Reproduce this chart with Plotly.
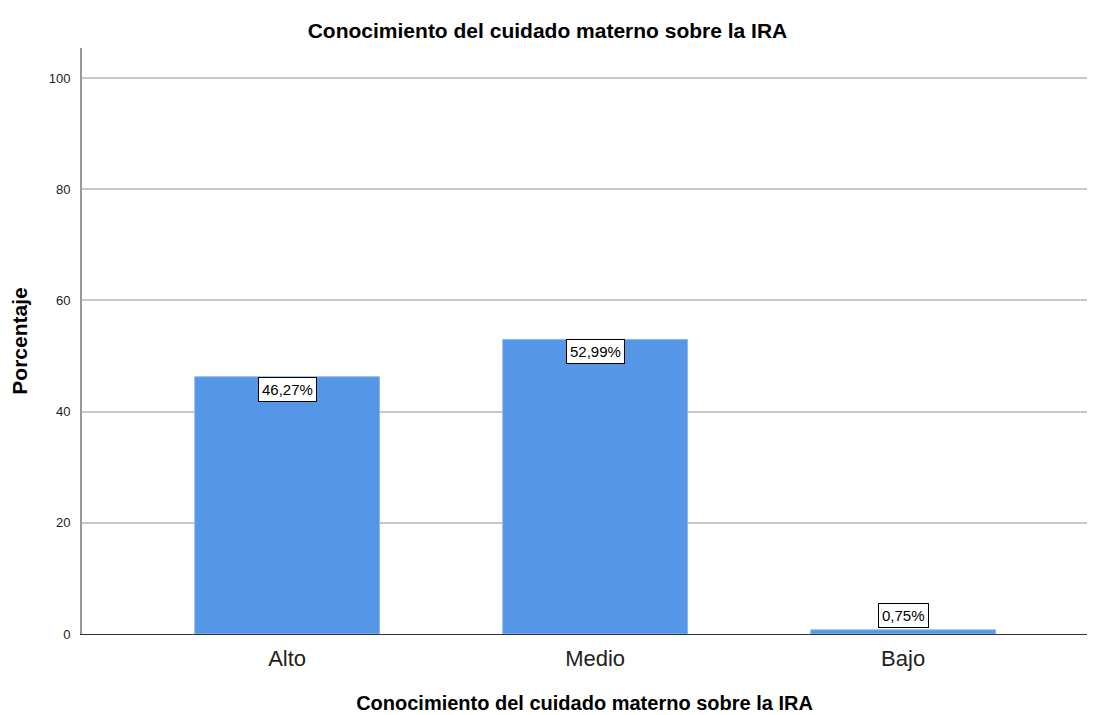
import plotly.graph_objects as go

categories = ["Alto", "Medio", "Bajo"]
values = [46.27, 52.99, 0.75]
labels = ["46,27%", "52,99%", "0,75%"]
y_ticks = [0, 20, 40, 60, 80, 100]

fig = go.Figure()
fig.add_trace(go.Bar(
    x=categories, y=values, width=0.6,
    marker=dict(color="#5596E6", line=dict(color="#8DB8EE", width=1)),
    hoverinfo="skip",
))

for c, v, t in zip(categories, values, labels):
    above = v < 5
    fig.add_annotation(
        x=c, y=v, text=t, showarrow=False,
        yanchor="bottom" if above else "top",
        yshift=2 if above else 0,
        font=dict(family="Arial, Liberation Sans", size=15, color="black"),
        bgcolor="white", bordercolor="black", borderwidth=1, borderpad=3,
    )

fig.update_layout(
    width=1079, height=715,
    margin=dict(l=74, r=0, t=40, b=89),
    paper_bgcolor="white", plot_bgcolor="white",
    showlegend=False,
    font=dict(family="Arial, Liberation Sans", color="black"),
    title=dict(text="<b>Conocimiento del cuidado materno sobre la IRA</b>",
               x=0.5, xanchor="center", y=0.968, yanchor="middle",
               font=dict(size=21, color="black")),
)
fig.update_xaxes(
    range=[-0.666, 2.597],
    showline=True, linecolor="#333333", linewidth=1,
    tickfont=dict(size=22, color="#222222"),
    ticks="", ticklabelstandoff=5,
    title=dict(text="<b>Conocimiento del cuidado materno sobre la IRA</b>",
               font=dict(size=20, color="black"), standoff=25),
)
fig.update_yaxes(
    range=[0, 105.4],
    tickvals=y_ticks,
    showline=True, linecolor="#999999", linewidth=2,
    showgrid=True, gridcolor="#C8C8C8", gridwidth=1.5,
    zeroline=False,
    ticks="", ticklen=0, ticklabelstandoff=7,
    tickfont=dict(size=13, color="#222222"),
    title=dict(text="<b>Porcentaje</b>", font=dict(size=21, color="black"), standoff=22),
)

fig.write_html("out.html")
